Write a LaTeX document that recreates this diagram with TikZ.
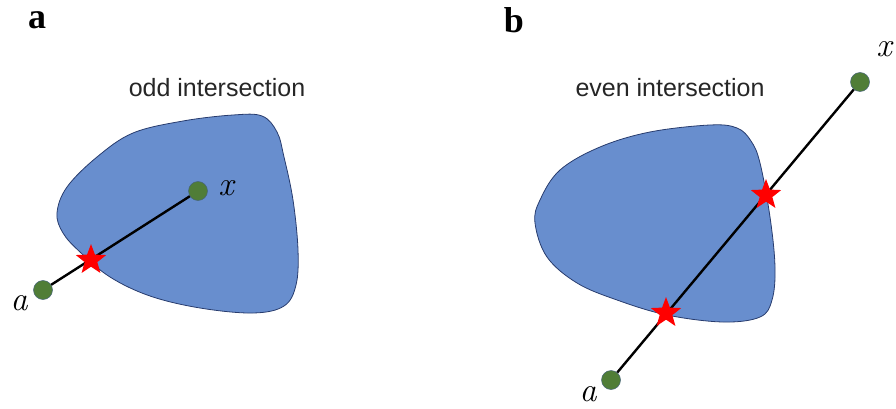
\documentclass[tikz,border=0pt]{standalone}
\usepackage{fontspec}
\setsansfont{Liberation Sans}
\newfontfamily\panelfont{Liberation Serif}
\usetikzlibrary{shapes.geometric}
\definecolor{blobfill}{RGB}{104,142,206}
\definecolor{blobedge}{RGB}{40,60,110}
\definecolor{dotgreen}{RGB}{80,125,55}
\definecolor{dotedge}{RGB}{70,100,120}
\tikzset{
  blob/.style={fill=blobfill, draw=blobedge, line width=0.8pt},
  pt/.style={circle, fill=dotgreen, draw=dotedge, line width=0.5pt, minimum size=19pt, inner sep=0pt},
  hit/.style={star, star points=5, star point ratio=2.4, fill=red, draw=none, minimum size=32pt, inner sep=0pt},
  seg/.style={line width=2.4pt, black},
  captext/.style={font=\sffamily\fontsize{25}{30}\selectfont, text=black!85},
  panel/.style={font=\panelfont\bfseries\fontsize{36}{40}\selectfont},
  lbl/.style={font=\itshape\fontsize{34}{38}\selectfont, inner sep=0pt}
}
\begin{document}
\begin{tikzpicture}[x=1pt, y=-1pt]
\useasboundingbox (0,0) rectangle (896,409);
% panel a
\node[panel] (pa) at (37,20) {a};
\node[captext] (ca) at (217,88) {odd intersection};
\draw[blob] plot[smooth cycle, tension=0.6] coordinates {
 (57,213) (67,187) (97,157) (133,133) (183,121) (233,115) (262,116) (277,132)
 (284,157) (293,200) (298,250) (296,285) (284,306) (253,313) (200,308)
 (150,296) (110,277) (80,252) (63,233)};
\node[pt] (a1) at (43,290) {};
\node[pt] (x1) at (198,191) {};
\draw[seg] (a1) -- (x1);
\node[hit] (s1) at (91,260) {};
\node[lbl] (la1) at (19,303) {a};
\node[lbl] (lx1) at (226,188) {x};
% panel b
\node[panel] (pb) at (514,20) {b};
\node[captext] (cb) at (670,88) {even intersection};
\draw[blob] plot[smooth cycle, tension=0.6] coordinates {
 (535,223) (540,200) (560,170) (600,147) (650,132) (710,125) (737,128) (751,141)
 (760,163) (770,217) (775,267) (772,300) (760,317) (723,322) (667,315)
 (617,300) (577,283) (547,257)};
\node[pt] (a2) at (611,380) {};
\node[pt] (x2) at (860,82) {};
\draw[seg] (a2) -- (x2);
\node[hit] (s2) at (666,313) {};
\node[hit] (s3) at (766,195) {};
\node[lbl] (la2) at (588,394) {a};
\node[lbl] (lx2) at (884,49) {x};
\end{tikzpicture}
\end{document}
